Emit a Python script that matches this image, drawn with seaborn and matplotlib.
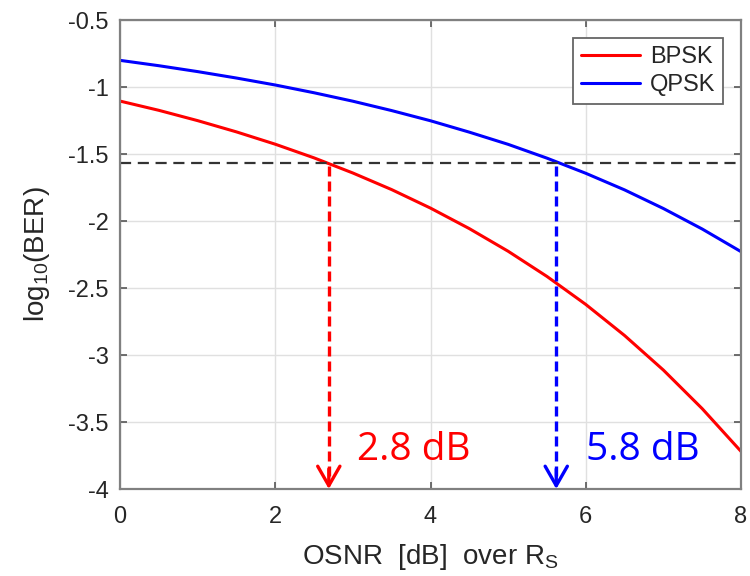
import matplotlib
matplotlib.use('Agg')
import pandas as pd
import seaborn as sns
from matplotlib import pyplot as plt

# valores
osnr = [0, 0.5, 1, 1.5, 2, 2.5, 3, 3.5, 4, 4.5, 5, 5.5, 6, 6.5, 7, 7.5, 8]
bpsk = [-1.104, -1.173, -1.250, -1.334, -1.426, -1.528, -1.641, -1.765, -1.903,
        -2.056, -2.225, -2.413, -2.622, -2.854, -3.112, -3.400, -3.719]
qpsk = [-0.800, -0.840, -0.884, -0.932, -0.984, -1.042, -1.105, -1.175, -1.251,
        -1.336, -1.427, -1.530, -1.643, -1.767, -1.906, -2.059, -2.228]

limiar = -1.57
osnr_bpsk = 2.69
osnr_qpsk = 5.62
rotulos = ['2.8 dB', '5.8 dB']
pos_rotulos = [3.05, 6.0]
y_rotulos = -3.71

dados = pd.DataFrame({
    'OSNR': osnr * 2,
    'BER': bpsk + qpsk,
    'Formato': ['BPSK'] * len(osnr) + ['QPSK'] * len(osnr),
})

sns.set_style('whitegrid')
plt.rcParams['font.family'] = ['Liberation Sans', 'DejaVu Sans']

fig, ax = plt.subplots(figsize=(7.5, 5.76), dpi=100)
fig.subplots_adjust(left=0.16, right=0.988, top=0.965, bottom=0.151)

sns.lineplot(data=dados, x='OSNR', y='BER', hue='Formato',
             palette={'BPSK': '#ff0000', 'QPSK': '#0000ff'}, linewidth=2.2, ax=ax)

ax.axhline(limiar, color='#333333', linestyle=(0, (5, 3)), linewidth=1.6)

# setas tracejadas
for xv, cor in [(osnr_bpsk, '#ff0000'), (osnr_qpsk, '#0000ff')]:
    ax.vlines(xv, -3.9, limiar, colors=cor, linestyles=(0, (3, 1.5)), linewidth=2.4)
    ax.annotate('', xy=(xv, -4.0), xytext=(xv, -3.85),
                arrowprops=dict(arrowstyle='->,head_length=0.7,head_width=0.4',
                                color=cor, linewidth=2.4, mutation_scale=20,
                                shrinkA=0, shrinkB=0))

for xt, txt, cor in zip(pos_rotulos, rotulos, ['#ff0000', '#0000ff']):
    ax.text(xt, y_rotulos, txt, color=cor, fontsize=28,
            family=['Open Sans', 'DejaVu Sans'], va='center')

ax.set_xlim(0, 8)
ax.set_ylim(-4, -0.5)
ax.set_xticks([0, 2, 4, 6, 8])
ax.set_yticks([-4, -3.5, -3, -2.5, -2, -1.5, -1, -0.5])
ax.set_yticklabels(['-4', '-3.5', '-3', '-2.5', '-2', '-1.5', '-1', '-0.5'])
ax.tick_params(labelsize=17, direction='in', length=5, width=1.2, color='#555555',
               top=True, right=True, left=True, bottom=True, labelcolor='#262626')
ax.tick_params(axis='x', pad=12)
ax.tick_params(axis='y', pad=8)
ax.grid(color='#e0e0e0', linewidth=1)
for s in ax.spines.values():
    s.set_color('#808080')
    s.set_linewidth(1.6)

ax.set_xlabel('OSNR  [dB]  over R$_\\mathregular{S}$', fontsize=20, color='#262626', labelpad=10)
ax.set_ylabel('log$_\\mathregular{10}$(BER)', fontsize=20, color='#262626', labelpad=12)

leg = ax.legend(loc='upper right', fontsize=17, frameon=True, fancybox=False,
                edgecolor='#666666', framealpha=1, handlelength=2.5,
                borderaxespad=0.75, borderpad=0.35, labelspacing=0.25, handletextpad=0.4)
leg.get_frame().set_linewidth(1.3)

plt.savefig('out.png')
